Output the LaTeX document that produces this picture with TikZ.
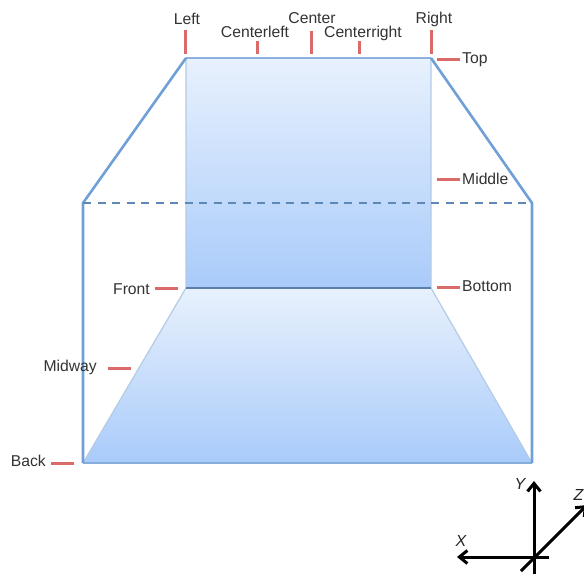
\documentclass[tikz,border=0pt]{standalone}
\usepackage{fontspec}
\setmainfont{Liberation Sans}
\usetikzlibrary{arrows.meta}
\definecolor{lbl}{HTML}{333333}
\definecolor{tick}{HTML}{DB6B68}
\definecolor{edgeb}{HTML}{6FA0D6}
\definecolor{faintb}{HTML}{B4CBE6}
\definecolor{gtop}{HTML}{E8F1FD}
\definecolor{gbot}{HTML}{A9CBFA}
\tikzset{
  lab/.style={font=\fontsize{15.7}{18}\selectfont, text=lbl, inner sep=0pt, text height=11pt, text depth=3pt},
  tickm/.style={draw=tick, line width=3pt},
  wire/.style={draw=edgeb, line width=2.6pt},
  axis/.style={draw=black, line width=3pt},
  axtip/.style={-{Straight Barb[length=8pt,width=13pt,line width=3pt]}},
  axlab/.style={font=\itshape\fontsize{16}{18}\selectfont, text=black!85, inner sep=0pt}
}
\begin{document}
\begin{tikzpicture}[x=1pt,y=-1pt]
\useasboundingbox (0,0) rectangle (584,574);
\fill[white] (0,0) rectangle (584,574);
% corners
\coordinate (bl) at (83,463); \coordinate (br) at (532,463);
\coordinate (ml) at (83,203); \coordinate (mr) at (532,203);
\coordinate (tl) at (186,58); \coordinate (tr) at (431,58);
\coordinate (fl) at (186,288); \coordinate (fr) at (431,288);
% back wall and floor
\shade[top color=gtop, bottom color=gbot] (tl) rectangle (fr);
\shade[top color=gtop, bottom color=gbot] (fl) -- (fr) -- (br) -- (bl) -- cycle;
\draw[faintb, line width=1.2pt] (tl) -- (fl) (tr) -- (fr) (fl) -- (bl) (fr) -- (br);
\draw[edgeb!70!faintb, line width=1.6pt] (bl) -- (br);
\draw[edgeb!80!black, line width=1.6pt] (fl) -- (fr);
\draw[edgeb!60!faintb, line width=2pt] (tl) -- (tr);
% wires
\draw[wire] (br) -- (mr) -- (tr);
\draw[wire] (bl) -- (ml) -- (tl);
\draw[edgeb!85!black, line width=2pt, dash pattern=on 8pt off 6.5pt] (ml) -- (mr);
% tick marks
\draw[tickm] (185,30) -- (185,54);
\draw[tickm] (257,41) -- (257,54);
\draw[tickm] (311,31) -- (311,54);
\draw[tickm] (359,41) -- (359,54);
\draw[tickm] (431,30) -- (431,54);
\draw[tickm] (437,59) -- (460,59);
\draw[tickm] (437,179) -- (460,179);
\draw[tickm] (437,287) -- (460,287);
\draw[tickm] (155,288) -- (178,288);
\draw[tickm] (108,368) -- (131,368);
\draw[tickm] (51,463) -- (74,463);
% labels
\node[lab] (nleft) at (187,20) {Left};
\node[lab] (ncl) at (255,33) {Centerleft};
\node[lab] (nc) at (312,19) {Center};
\node[lab] (ncr) at (363,33) {Centerright};
\node[lab] (nr) at (434,19) {Right};
\node[lab, anchor=west] (ntop) at (462,59) {Top};
\node[lab, anchor=west] (nmid) at (462,180) {Middle};
\node[lab, anchor=west] (nbot) at (462,287) {Bottom};
\node[lab, anchor=east] (nfront) at (150,290) {Front};
\node[lab, anchor=east] (nmidway) at (97,367) {Midway};
\node[lab, anchor=east] (nback) at (46,462) {Back};
% axes
\coordinate (o) at (534,557);
\coordinate (yt) at (534,481); \coordinate (yb) at (534,574);
\coordinate (xt) at (457,557); \coordinate (xb) at (549,557);
\coordinate (zt) at (587,505); \coordinate (zb) at (521,571);
\draw[axis, axtip] (yb) -- (yt);
\draw[axis, axtip] (xb) -- (xt);
\draw[axis, axtip] (zb) -- (zt);
\node[axlab] (ny) at (520,484) {Y};
\node[axlab] (nx) at (461,541) {X};
\node[axlab, anchor=east] (nz) at (583.5,495) {Z};
\end{tikzpicture}
\end{document}
